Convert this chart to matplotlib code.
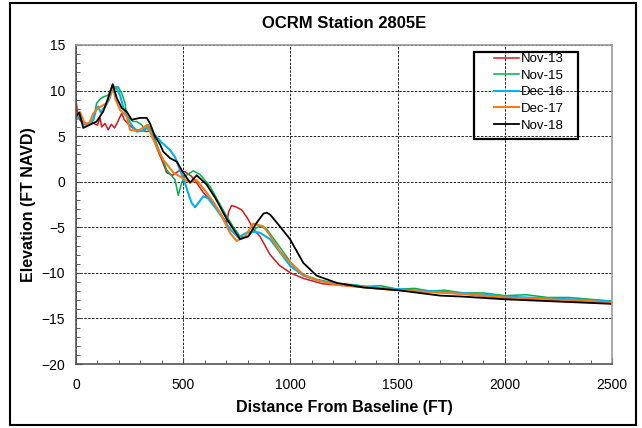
"""Beach profile chart for OCRM Station 2805E."""

import matplotlib
matplotlib.use("Agg")
import matplotlib.pyplot as plt  # type: ignore
from matplotlib.patches import Rectangle  # type: ignore
from matplotlib.ticker import MultipleLocator  # type: ignore

plt.rcParams["font.family"] = ["Liberation Sans", "DejaVu Sans"]

# survey profiles: distance (ft) and elevation (ft NAVD)
nov13_x = [0, 10, 25, 50, 75, 100, 112, 120, 135, 150, 165, 180, 195, 213, 225,
           245, 265, 283, 310, 330, 345, 360, 380, 400, 423, 450, 480, 508, 539,
           565, 594, 625, 656, 685, 703, 712, 726, 750, 773, 800, 827, 858, 905,
           950, 1000, 1060, 1150, 1250, 1400, 1500, 1650, 1800, 2000, 2200,
           2400, 2500]
nov13_y = [9.0, 7.0, 6.6, 6.4, 6.5, 6.2, 7.0, 6.0, 6.4, 5.7, 6.3, 5.9, 6.6, 7.5,
           6.8, 6.3, 5.9, 5.7, 5.6, 5.5, 5.6, 4.8, 3.5, 2.4, 1.0, 0.7, 1.2, 1.1,
           0.6, -0.2, -1.2, -2.0, -2.9, -3.9, -4.5, -3.3, -2.6, -2.8, -3.1, -4.0,
           -5.2, -6.0, -8.0, -9.2, -10.0, -10.6, -11.2, -11.4, -11.7, -11.9,
           -12.1, -12.3, -12.8, -13.0, -13.2, -13.3]

nov15_x = [0, 19, 34, 50, 81, 96, 110, 127, 151, 171, 182, 197, 213, 229, 236,
           267, 283, 306, 322, 337, 361, 390, 423, 462, 477, 493, 508, 547, 578,
           625, 660, 703, 735, 765, 796, 843, 858, 890, 951, 1000, 1060, 1122,
           1216, 1300, 1350, 1420, 1500, 1580, 1650, 1720, 1800, 1900, 2000,
           2100, 2200, 2300, 2400, 2500]
nov15_y = [6.8, 7.5, 6.4, 6.2, 6.8, 8.6, 9.0, 9.3, 9.5, 10.6, 10.4, 10.4, 9.7,
           8.6, 7.2, 6.6, 6.6, 6.25, 5.7, 6.25, 5.15, 3.3, 1.3, 0.2, -1.5, -0.1,
           0.6, 1.2, 0.8, -0.5, -2.0, -3.8, -5.0, -6.0, -6.1, -5.05, -4.9, -5.2,
           -7.2, -8.8, -10.2, -10.7, -11.2, -11.3, -11.5, -11.4, -11.8, -11.7,
           -12.0, -11.9, -12.2, -12.2, -12.5, -12.4, -12.7, -12.7, -12.9, -13.1]

dec16_x = [0, 20, 35, 60, 81, 95, 104, 115, 135, 155, 174, 190, 205, 221, 240,
           260, 283, 310, 330, 360, 400, 438, 462, 485, 508, 525, 539, 555, 575,
           594, 615, 635, 656, 690, 718, 757, 796, 830, 858, 905, 950, 998, 1060,
           1122, 1216, 1350, 1500, 1650, 1800, 2000, 2200, 2400, 2500]
dec16_y = [6.8, 7.2, 6.3, 6.2, 6.8, 8.0, 8.25, 7.6, 8.2, 9.0, 10.4, 10.2, 9.5,
           8.1, 7.0, 6.2, 5.5, 5.6, 5.9, 5.3, 4.3, 3.5, 2.7, 1.3, -0.1, -1.4,
           -2.3, -2.8, -2.2, -1.6, -1.8, -2.4, -3.05, -4.2, -5.2, -6.1, -5.6,
           -5.5, -5.6, -6.3, -7.7, -9.2, -10.3, -10.8, -11.2, -11.5, -11.8,
           -12.0, -12.2, -12.6, -12.8, -13.0, -13.15]

dec17_x = [0, 20, 40, 60, 81, 104, 143, 160, 171, 185, 205, 236, 252, 275, 298,
           333, 361, 407, 454, 490, 532, 563, 609, 640, 672, 718, 749, 788, 827,
           874, 905, 950, 1000, 1060, 1122, 1216, 1350, 1500, 1650, 1800, 2000,
           2200, 2400, 2500]
dec17_y = [7.0, 7.6, 6.4, 6.3, 7.5, 8.1, 8.6, 9.5, 10.5, 9.0, 7.9, 7.2, 5.7,
           5.6, 5.7, 6.25, 4.6, 2.4, 1.0, 0.5, -0.1, 0.2, -1.2, -2.2, -3.4, -5.6,
           -6.5, -6.0, -4.6, -4.9, -5.9, -7.6, -8.9, -10.2, -10.8, -11.3, -11.6,
           -11.9, -12.1, -12.3, -12.7, -12.9, -13.1, -13.3]

nov18_x = [0, 15, 34, 65, 96, 127, 150, 171, 190, 213, 236, 260, 298, 330, 345,
           368, 392, 407, 438, 470, 500, 532, 563, 609, 650, 703, 765, 804, 840,
           874, 890, 905, 951, 998, 1060, 1122, 1216, 1340, 1500, 1600, 1700,
           1800, 2000, 2200, 2400, 2500]
nov18_y = [7.15, 7.6, 5.9, 6.25, 6.6, 7.7, 9.2, 10.7, 9.2, 8.1, 7.7, 6.8, 7.0,
           7.0, 6.4, 5.0, 4.1, 3.3, 2.6, 2.2, 1.0, -0.1, 0.7, -0.3, -1.8, -4.1,
           -6.3, -6.0, -4.6, -3.5, -3.4, -3.6, -4.9, -6.3, -8.9, -10.3, -11.1,
           -11.6, -11.9, -12.2, -12.5, -12.6, -12.9, -13.1, -13.3, -13.4]

surveys = [
    ("Nov-13", nov13_x, nov13_y, "#d7191c", 1.1),
    ("Nov-15", nov15_x, nov15_y, "#00b050", 1.1),
    ("Dec-16", dec16_x, dec16_y, "#00b0f0", 1.5),
    ("Dec-17", dec17_x, dec17_y, "#f07d1a", 1.5),
    ("Nov-18", nov18_x, nov18_y, "#000000", 1.3),
]


def main() -> None:
    fig = plt.figure(figsize=(6.42, 4.28), dpi=100)
    ax = fig.add_axes([76 / 642, 1 - 364 / 428, 536 / 642, 319 / 428])

    for label, xs, ys, color, lw in surveys:
        ax.plot(xs, ys, color=color, lw=lw, label=label)

    ax.set_xlim(0, 2500)
    ax.set_ylim(-20, 15)
    ax.xaxis.set_major_locator(MultipleLocator(500))
    ax.xaxis.set_minor_locator(MultipleLocator(100))
    ax.yaxis.set_major_locator(MultipleLocator(5))
    ax.yaxis.set_minor_locator(MultipleLocator(1))
    ax.tick_params(which="both", direction="in", labelsize=10, color="#444444")
    ax.tick_params(which="major", length=4)
    ax.tick_params(which="minor", length=3)
    ax.tick_params(axis="x", pad=10)
    ax.tick_params(axis="y", pad=8)
    ax.grid(True, which="major", color="#222222", lw=0.7, ls=(0, (2.5, 1.5)))
    ax.set_axisbelow(True)

    for side in ("top", "right"):
        ax.spines[side].set_color("#999999")
        ax.spines[side].set_linewidth(1.2)
    for side in ("left", "bottom"):
        ax.spines[side].set_color("#555555")
        ax.spines[side].set_linewidth(1.2)

    ax.set_title("OCRM Station 2805E", fontsize=12, fontweight="bold", pad=12)
    ax.set_xlabel("Distance From Baseline (FT)", fontsize=11.5,
                  fontweight="bold", labelpad=6)
    ax.set_ylabel("Elevation (FT NAVD)", fontsize=11.5, fontweight="bold",
                  labelpad=4)

    ax.legend(loc="upper left", bbox_to_anchor=(494 / 642, 1 - 53 / 428),
              bbox_transform=fig.transFigure, frameon=False, fontsize=9.5,
              handlelength=1.9, handletextpad=0.1, labelspacing=0.33,
              borderpad=0, borderaxespad=0)
    fig.patches.append(Rectangle((474 / 642, 1 - 139 / 428), 104 / 642,
                                 87 / 428, transform=fig.transFigure,
                                 fill=False, lw=1.6, ec="black"))
    fig.patches.append(Rectangle((10 / 642, 1 - 425 / 428), 626 / 642,
                                 422 / 428, transform=fig.transFigure,
                                 fill=False, lw=1.5, ec="black"))

    fig.savefig("out.png", dpi=100)
    plt.close(fig)


if __name__ == "__main__":
    main()
